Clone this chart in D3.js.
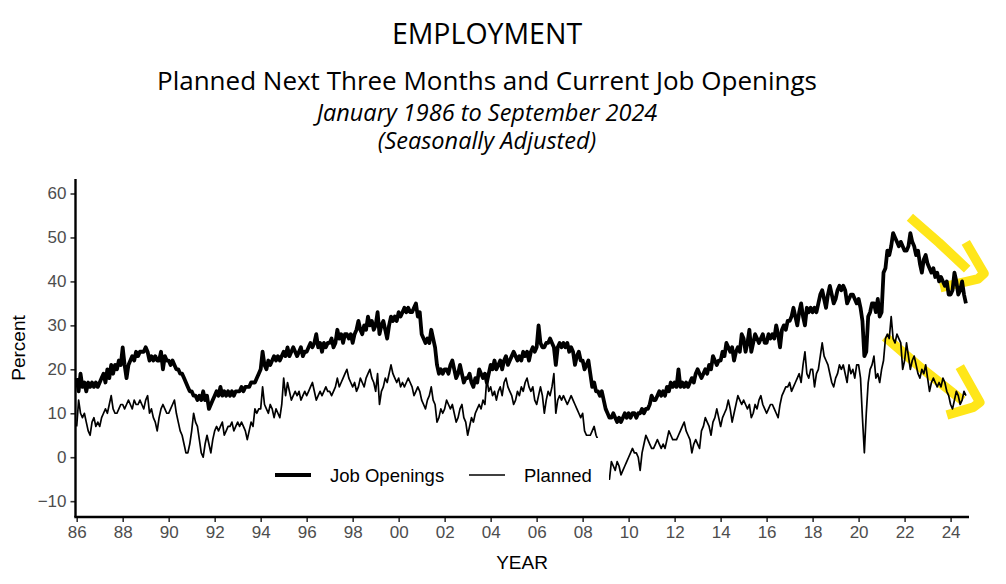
<!DOCTYPE html>
<html>
<head>
<meta charset="utf-8">
<script src="https://cdn.jsdelivr.net/npm/d3@7"></script>
<style>
    body { margin: 0; background: #fff; }
    svg { display: block; }
    .title { font-family: "Open Sans", sans-serif; fill: #000; }
    .axis text { font-family: "Liberation Sans", Arial, sans-serif; font-size: 17px; fill: #4d4d4d; }
    .axisTitle { font-family: "Liberation Sans", Arial, sans-serif; font-size: 19px; fill: #000; }
    .legend text { font-family: "Liberation Sans", Arial, sans-serif; font-size: 18.5px; fill: #000; }
</style>
</head>
<body>
<div id="chart"></div>
<script>
// Monthly values, one row per year, January 1986 to September 2024
var startYear = 1986;

var jobOpenings = [
    [18, 15, 19, 16, 17, 15, 17, 16, 17, 16, 17, 16], // 86
    [17, 18, 19, 17, 20, 18, 21, 19, 21, 20, 22, 21],
    [25, 21, 18, 21, 22, 23, 22, 24, 23, 24, 24, 24],
    [25, 24, 22, 23, 22, 23, 22, 22, 24, 20, 23, 22],
    [22, 21, 22, 21, 20, 20, 19, 19, 18, 17, 16, 15], // 90
    [15, 14, 14, 13, 14, 13, 15, 13, 14, 11, 12, 13],
    [14, 15, 14, 16, 14, 15, 14, 15, 14, 15, 14, 15],
    [15, 15, 16, 15, 16, 16, 16, 17, 17, 17, 18, 19],
    [20, 24, 21, 20, 22, 21, 22, 23, 22, 23, 22, 23],
    [24, 23, 25, 23, 24, 25, 24, 23, 24, 25, 23, 24], // 95
    [24, 25, 26, 25, 26, 28, 25, 26, 24, 26, 25, 26],
    [26, 27, 25, 26, 29, 27, 28, 26, 28, 28, 27, 28],
    [26, 28, 29, 31, 29, 28, 30, 29, 32, 30, 31, 29],
    [30, 33, 28, 30, 31, 29, 27, 30, 32, 31, 32, 31],
    [33, 32, 33, 34, 33, 34, 33, 33, 34, 35, 32, 33], // 00
    [28, 27, 26, 27, 26, 29, 27, 25, 21, 19, 20, 19],
    [20, 20, 19, 21, 22, 20, 18, 19, 21, 19, 17, 18],
    [18, 19, 17, 16, 18, 17, 20, 19, 18, 19, 17, 19],
    [21, 20, 22, 20, 21, 22, 20, 22, 23, 21, 22, 23],
    [24, 23, 22, 23, 22, 24, 23, 24, 22, 24, 25, 24], // 05
    [25, 30, 26, 25, 25, 26, 26, 27, 26, 25, 21, 25],
    [26, 25, 26, 25, 26, 24, 25, 24, 21, 23, 24, 22],
    [22, 20, 21, 22, 19, 16, 17, 15, 15, 14, 15, 13],
    [11, 10, 9, 9, 10, 9, 8, 9, 8, 9, 10, 9],
    [10, 9, 10, 10, 9, 10, 10, 11, 10, 11, 11, 12], // 10
    [14, 13, 13, 14, 15, 14, 15, 14, 16, 15, 17, 16],
    [17, 16, 20, 16, 17, 16, 17, 16, 17, 18, 17, 19],
    [20, 19, 18, 19, 20, 19, 21, 20, 23, 22, 21, 22],
    [22, 24, 23, 26, 25, 24, 25, 22, 24, 25, 24, 28],
    [27, 24, 26, 29, 24, 26, 28, 27, 26, 27, 28, 26], // 15
    [26, 28, 27, 28, 27, 30, 28, 25, 29, 30, 29, 31],
    [31, 32, 34, 32, 30, 33, 35, 32, 30, 34, 33, 34],
    [33, 34, 33, 35, 37, 38, 36, 34, 37, 39, 37, 35],
    [36, 38, 39, 38, 39, 38, 35, 36, 37, 37, 36, 35],
    [36, 34, 31, 23, 24, 32, 33, 35, 35, 33, 36, 32], // 20
    [33, 42, 43, 47, 46, 48, 51, 50, 49, 48, 49, 48],
    [47, 47, 48, 51, 49, 48, 46, 47, 44, 42, 45, 46],
    [44, 43, 42, 43, 41, 42, 40, 41, 40, 39, 40, 37],
    [37, 38, 42, 40, 37, 38, 40, 37, 35]             // 24
];

var planned = [
    [7, 13, 10, 9, 10, 8, 6, 5, 8, 9, 7, 8],          // 86
    [7, 9, 10, 11, 10, 12, 14, 11, 10, 10, 11, 12],
    [12, 11, 12, 13, 12, 11, 13, 12, 12, 13, 12, 11],
    [13, 14, 10, 11, 9, 8, 6, 9, 11, 12, 11, 10],
    [10, 11, 12, 13, 10, 8, 6, 5, 3, 1, 1, 3],        // 90
    [6, 10, 8, 7, 4, 1, 0, 3, 5, 3, 1, 4],
    [6, 7, 6, 7, 8, 5, 6, 7, 7, 8, 6, 7],
    [8, 7, 8, 7, 6, 4, 6, 8, 7, 11, 10, 11],
    [11, 16, 12, 11, 10, 12, 11, 9, 11, 10, 9, 12],
    [18, 14, 17, 15, 13, 14, 15, 14, 15, 13, 14, 15], // 95
    [14, 15, 16, 17, 15, 13, 14, 15, 14, 15, 16, 15],
    [15, 14, 15, 16, 18, 16, 17, 18, 19, 20, 18, 17],
    [16, 17, 15, 16, 18, 17, 16, 18, 19, 20, 18, 17],
    [15, 19, 12, 15, 16, 18, 17, 19, 21, 19, 18, 17],
    [18, 16, 17, 16, 17, 18, 17, 16, 14, 15, 16, 15], // 00
    [13, 12, 11, 13, 14, 16, 13, 12, 8, 9, 11, 10],
    [11, 13, 12, 11, 12, 10, 8, 9, 11, 12, 9, 8],
    [5, 7, 9, 8, 10, 11, 12, 11, 13, 12, 18, 15],
    [16, 14, 15, 13, 15, 16, 14, 17, 18, 16, 15, 14],
    [12, 13, 15, 14, 16, 15, 17, 18, 16, 15, 16, 13], // 05
    [12, 14, 16, 14, 10, 13, 15, 14, 16, 19, 10, 13],
    [14, 13, 14, 13, 12, 13, 14, 13, 12, 11, 10, 9],
    [10, 6, 5, 5, 5, 6, 7, 5, 4, 2, 0, -2],
    [-3, -4, -5, -1, -2, -3, -1, -2, -4, -3, -2, -1],
    [0, 1, 2, 1, 1, 0, -3, 1, 3, 5, 4, 3],            // 10
    [2, 2, 3, 4, 3, 2, 3, 2, 4, 6, 5, 4],
    [4, 4, 5, 6, 7, 8, 6, 5, 4, 1, 3, 4],
    [3, 2, 6, 7, 9, 8, 7, 5, 8, 9, 11, 9],
    [7, 9, 10, 11, 13, 11, 8, 10, 12, 14, 13, 12],
    [13, 12, 11, 12, 9, 10, 12, 11, 13, 14, 12, 11],  // 15
    [10, 11, 12, 12, 11, 10, 9, 12, 14, 15, 16, 16],
    [17, 15, 16, 17, 18, 19, 17, 21, 24, 19, 18, 20],
    [20, 16, 19, 20, 23, 26, 23, 22, 21, 19, 17, 16],
    [18, 19, 21, 20, 21, 19, 17, 21, 19, 20, 18, 21],
    [21, 18, 9, 1, 10, 17, 20, 21, 23, 18, 19, 17],   // 20
    [20, 22, 27, 28, 27, 32, 27, 26, 28, 27, 26, 20],
    [22, 26, 23, 20, 22, 23, 21, 19, 18, 20, 19, 21],
    [18, 15, 17, 18, 17, 16, 17, 16, 18, 17, 15, 14],
    [12, 11, 13, 15, 14, 12, 13, 15, 14]              // 24
];

var yearTicks = d3.range(1986, 2025, 2);
var percentTicks = [-10, 0, 10, 20, 30, 40, 50, 60];
var seriesNames = ["Job Openings", "Planned"];

// hand-drawn yellow highlights, in [year, percent]
var highlightTop = [[2022.23, 54.6], [2023.5, 48.8], [2024.72, 42.8]];
var highlightTopHead = [[2024.66, 48.9], [2025.45, 41.8], [2025.2, 40.6], [2023.55, 38.6]];
var highlightLow = [[2021.15, 27.4], [2022.7, 20.4], [2024.52, 12.9]];
var highlightLowHead = [[2024.4, 20.6], [2025.27, 12.5], [2025.0, 11.4], [2023.84, 9.6]];

// Turn the yearly rows into one monthly series
function toMonthly(rows) {
    var out = [];
    rows.forEach(function(row, yi) {
        row.forEach(function(v, mi) {
            out.push({ date: startYear + yi + mi / 12, value: v });
        });
    });
    return out;
}

var width = 1006, height = 584;

var svg = d3.select("#chart")
    .append("svg")
    .attr("width", width)
    .attr("height", height);

var x = d3.scaleLinear()
    .domain([1986, 2024.8])
    .range([76.7, 969]);

var y = d3.scaleLinear()
    .domain([-13.6, 63.3])
    .range([517, 179]);

// Titles
svg.append("text").attr("class", "title")
    .attr("x", 487).attr("y", 44)
    .attr("text-anchor", "middle").style("font-size", "28.5px")
    .text("EMPLOYMENT");
svg.append("text").attr("class", "title")
    .attr("x", 487).attr("y", 90)
    .attr("text-anchor", "middle").style("font-size", "26px")
    .text("Planned Next Three Months and Current Job Openings");
svg.append("text").attr("class", "title")
    .attr("x", 487).attr("y", 120.5)
    .attr("text-anchor", "middle").style("font-size", "23.5px").style("font-style", "italic")
    .text("January 1986 to September 2024");
svg.append("text").attr("class", "title")
    .attr("x", 487).attr("y", 149)
    .attr("text-anchor", "middle").style("font-size", "23.5px").style("font-style", "italic")
    .text("(Seasonally Adjusted)");

// Yellow highlights go under the lines
var hl = d3.line()
    .x(function(d) { return x(d[0]); })
    .y(function(d) { return y(d[1]); });

[highlightTop, highlightTopHead, highlightLow, highlightLowHead].forEach(function(pts) {
    svg.append("path")
        .datum(pts)
        .attr("d", hl)
        .style("fill", "none")
        .style("stroke", "#ffe619")
        .style("stroke-width", 9.5)
        .style("stroke-linejoin", "round");
});

var line = d3.line()
    .x(function(d) { return x(d.date); })
    .y(function(d) { return y(d.value); });

svg.append("path")
    .datum(toMonthly(planned))
    .attr("d", line)
    .style("fill", "none")
    .style("stroke", "#000")
    .style("stroke-width", 1.7)
    .style("stroke-linejoin", "round");

svg.append("path")
    .datum(toMonthly(jobOpenings))
    .attr("d", line)
    .style("fill", "none")
    .style("stroke", "#000")
    .style("stroke-width", 3.8)
    .style("stroke-linejoin", "round");

// Axes
var xAxis = svg.append("g")
    .attr("class", "axis")
    .attr("transform", "translate(0,517)")
    .call(d3.axisBottom(x)
        .tickValues(yearTicks)
        .tickSize(5)
        .tickPadding(4)
        .tickFormat(function(d) { return String(d).slice(2); }));

var yAxis = svg.append("g")
    .attr("class", "axis")
    .attr("transform", "translate(75.5,0)")
    .call(d3.axisLeft(y)
        .tickValues(percentTicks)
        .tickSize(5)
        .tickPadding(4));

[xAxis, yAxis].forEach(function(g) {
    g.select(".domain").remove();
    g.selectAll(".tick line").style("stroke", "#333").style("stroke-width", 1.6);
});

svg.append("line")
    .attr("x1", 75.5).attr("x2", 75.5)
    .attr("y1", 179).attr("y2", 517)
    .style("stroke", "#000").style("stroke-width", 2.4);
svg.append("line")
    .attr("x1", 74.3).attr("x2", 969)
    .attr("y1", 517).attr("y2", 517)
    .style("stroke", "#000").style("stroke-width", 2.4);

svg.append("text").attr("class", "axisTitle")
    .attr("x", 522).attr("y", 569)
    .attr("text-anchor", "middle")
    .text("YEAR");
svg.append("text").attr("class", "axisTitle")
    .attr("transform", "translate(25,348) rotate(-90)")
    .attr("text-anchor", "middle")
    .text("Percent");

// Legend with a white backing, like ggplot's
var legend = svg.append("g").attr("class", "legend");
legend.append("rect")
    .attr("x", 262).attr("y", 438)
    .attr("width", 347).attr("height", 74)
    .style("fill", "#fff");

var legendItems = [
    { name: seriesNames[0], x1: 275, x2: 311, tx: 330, w: 3.8 },
    { name: seriesNames[1], x1: 469, x2: 505, tx: 524, w: 1.7 }
];
legendItems.forEach(function(d) {
    legend.append("line")
        .attr("x1", d.x1).attr("x2", d.x2)
        .attr("y1", 475).attr("y2", 475)
        .style("stroke", "#000").style("stroke-width", d.w);
    legend.append("text")
        .attr("x", d.tx).attr("y", 481.5)
        .text(d.name);
});
</script>
</body>
</html>
